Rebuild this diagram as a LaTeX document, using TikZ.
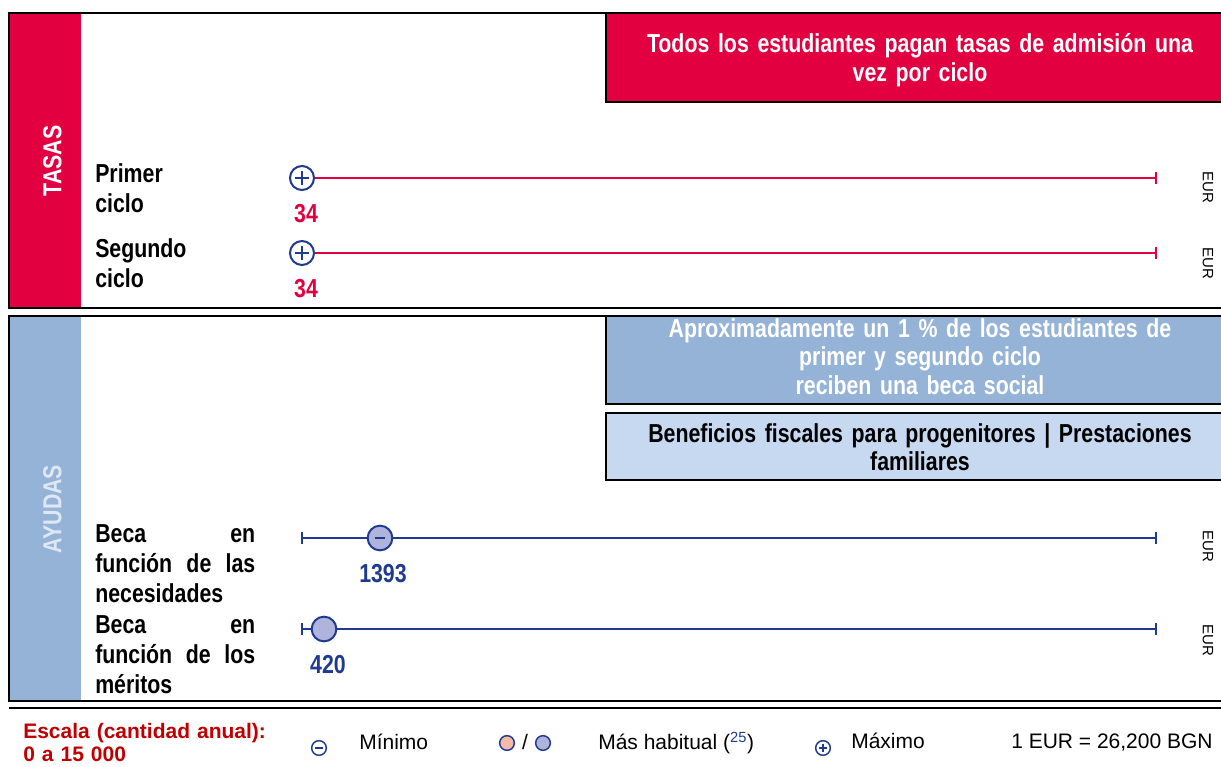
\documentclass[tikz,border=0pt]{standalone}
\usepackage{fontspec}
\setmainfont{Liberation Sans}
\newfontfamily\nb[FakeStretch=0.82]{Liberation Sans}
\usetikzlibrary{arrows.meta}
\definecolor{crim}{RGB}{226,0,64}
\definecolor{myNavy}{RGB}{31,58,145}
\definecolor{bandblue}{RGB}{149,179,215}
\definecolor{lightblue}{RGB}{198,217,241}
\definecolor{lav}{RGB}{176,180,220}
\definecolor{pinkc}{RGB}{246,187,166}
\definecolor{darkred}{RGB}{192,0,0}
\definecolor{bandtext}{RGB}{222,232,244}
\tikzset{
  frame/.style={draw=black, line width=1.5pt},
  bigbold/.style={font=\nb\bfseries\fontsize{19.5}{22.5}\selectfont},
  lbl/.style={bigbold, anchor=base west, inner sep=0pt, text width=120pt, align=left},
  boxtxt/.style={font=\nb\bfseries\fontsize{19.5}{21.4}\selectfont, text width=450pt, align=center, inner sep=0pt, anchor=base},
  bandlbl/.style={font=\nb\bfseries\fontsize{19.5}{22}\selectfont, rotate=90, inner sep=0pt},
  eur/.style={font=\fontsize{11.25}{12}\selectfont, rotate=-90, inner sep=0pt},
  num/.style={font=\nb\bfseries\fontsize{19.5}{22}\selectfont, anchor=base, inner sep=0pt},
  redln/.style={draw=crim, line width=1.5pt},
  blueln/.style={draw=myNavy, line width=1.5pt},
  tick/.style={-{Bar[width=9pt]}},
  maxsym/.style={circle, draw=myNavy, line width=1.5pt, fill=white, minimum size=18pt, inner sep=0pt,
    path picture={\draw[myNavy,line width=1.5pt]
      ([xshift=-5pt]path picture bounding box.center) -- ([xshift=5pt]path picture bounding box.center)
      ([yshift=-5pt]path picture bounding box.center) -- ([yshift=5pt]path picture bounding box.center);}},
  minsym/.style={circle, draw=myNavy, line width=1.5pt, fill=lav, minimum size=18.5pt, inner sep=0pt,
    path picture={\draw[myNavy,line width=1.5pt]
      ([xshift=-4pt]path picture bounding box.center) -- ([xshift=4pt]path picture bounding box.center);}},
  habsym/.style={circle, draw=myNavy, line width=1.5pt, fill=lav, minimum size=18.5pt, inner sep=0pt},
  legtxt/.style={font=\fontsize{15.75}{18}\selectfont, anchor=base west, inner sep=0pt},
  legmin/.style={circle, draw=myNavy, line width=1.1pt, fill=white, minimum size=11pt, inner sep=0pt,
    path picture={\draw[myNavy,line width=1.1pt]
      ([xshift=-3pt]path picture bounding box.center) -- ([xshift=3pt]path picture bounding box.center);}},
  legmax/.style={circle, draw=myNavy, line width=1.1pt, fill=white, minimum size=11pt, inner sep=0pt,
    path picture={\draw[myNavy,line width=1.1pt]
      ([xshift=-3pt]path picture bounding box.center) -- ([xshift=3pt]path picture bounding box.center)
      ([yshift=-3pt]path picture bounding box.center) -- ([yshift=3pt]path picture bounding box.center);}},
  legdot/.style={circle, draw=myNavy, line width=1.1pt, minimum size=11pt, inner sep=0pt},
}
\begin{document}
\begin{tikzpicture}[x=0.75pt,y=-0.75pt]
\useasboundingbox (0,0) rectangle (1221,767);
\fill[white] (0,0) rectangle (1221,767);

% ---------- TASAS frame ----------
\fill[crim] (10,14) rectangle (81,307.5);
\draw[frame] (9,13.5) rectangle (1236,308);
\node[bandlbl, text=white] (tasas) at (52.5,161) {TASAS};
\draw[frame, fill=crim] (606,13.5) rectangle (1236,102);
\node[boxtxt, text=white] (tbox) at (920,53) {Todos los estudiantes pagan tasas de admisión una\\vez por ciclo};

\node[lbl] (lp) at (95,182) {Primer\\ciclo};
\node[lbl] (ls) at (95,257) {Segundo\\ciclo};

\node[maxsym] (p1) at (302,178) {};
\coordinate (p1e) at (1157,178);
\draw[redln, tick] (p1) -- (p1e);
\node[num, text=crim] (n1) at (306,222) {34};
\node[eur] (eur1) at (1208,187) {EUR};

\node[maxsym] (p2) at (302,253) {};
\coordinate (p2e) at (1157,253);
\draw[redln, tick] (p2) -- (p2e);
\node[num, text=crim] (n2) at (306,297) {34};
\node[eur] (eur2) at (1208,263) {EUR};

% ---------- AYUDAS frame ----------
\fill[bandblue] (10,317) rectangle (81,699.5);
\draw[frame] (9,316) rectangle (1236,700.5);
\node[bandlbl, text=bandtext] (ayudas) at (52.5,509) {AYUDAS};
\draw[frame, fill=bandblue] (606,316) rectangle (1236,404);
\node[boxtxt, text=white] (abox) at (920,337) {Aproximadamente un 1 \% de los estudiantes de\\primer y segundo ciclo\\reciben una beca social};
\draw[frame, fill=lightblue] (606,413) rectangle (1236,480);
\node[boxtxt, text=black] (bbox) at (920,442) {Beneficios fiscales para progenitores | Prestaciones\\familiares};

\node[lbl] (lnec) at (95,542) {Beca\hfill en\\función\hfill de\hfill las\\necesidades};
\node[lbl] (lmer) at (95,633) {Beca\hfill en\\función\hfill de\hfill los\\méritos};

\coordinate (b1s) at (301,538);
\coordinate (b1e) at (1157,538);
\node[minsym] (m1) at (380,538) {};
\draw[blueln, tick] (m1) -- (b1s);
\draw[blueln, tick] (m1) -- (b1e);
\node[num, text=myNavy] (n3) at (383,582) {1393};
\node[eur] (eur3) at (1208,546) {EUR};

\coordinate (b2s) at (301,629);
\coordinate (b2e) at (1157,629);
\node[habsym] (h2) at (324,629) {};
\draw[blueln, tick] (h2) -- (b2s);
\draw[blueln, tick] (h2) -- (b2e);
\node[num, text=myNavy] (n4) at (328,673) {420};
\node[eur] (eur4) at (1208,640) {EUR};

% ---------- legend ----------
\draw[line width=1.5pt] (9,708) -- (1236,708);
\node[anchor=base west, inner sep=0pt, text width=250pt, text=darkred,
  font=\bfseries\fontsize{15.75}{17.25}\selectfont] (esc) at (23,738) {Escala (cantidad anual):\\0 a 15 000};
\node[legmin] (lmin) at (319,748) {};
\node[legtxt] (tmin) at (359,749) {Mínimo};
\node[legdot, fill=pinkc] (lpink) at (507,743) {};
\node[legtxt, anchor=base] (slash) at (525,749) {/};
\node[legdot, fill=lav] (lblue) at (543,743) {};
\node[legtxt] (thab) at (598,749) {Más habitual (\textsuperscript{\textcolor{myNavy}{25}})};
\node[legmax] (lmax) at (823,748) {};
\node[legtxt] (tmax) at (851,748) {Máximo};
\node[legtxt] (teur) at (1011,748) {1 EUR = 26,200 BGN};
\end{tikzpicture}
\end{document}
